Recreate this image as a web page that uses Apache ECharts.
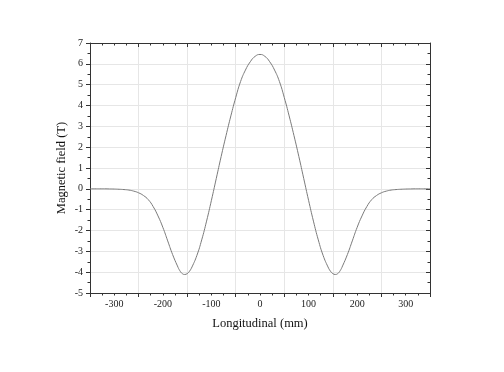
<!DOCTYPE html>
<html>
<head>
<meta charset="utf-8">
<script src="https://cdn.jsdelivr.net/npm/echarts@6/dist/echarts.min.js"></script>
<style>html,body{margin:0;padding:0;background:#fff}#c{width:504px;height:372px}</style>
</head>
<body>
<div id="c"></div>
<script>
// Longitudinal position (mm), positive half; curve is symmetric about 0
const positions = [0,10,20,30,40,50,60,70,80,90,100,110,120,130,140,145,150,155,160,165,170,180,190,200,210,220,230,240,250,260,270,280,290,300,310,320,330,340,350];
// Magnetic field (T) at those positions
const field = [6.45,6.36,6.1,5.7,5.15,4.38,3.5,2.55,1.55,0.5,-0.55,-1.55,-2.45,-3.2,-3.75,-3.95,-4.07,-4.11,-4.07,-3.93,-3.7,-3.15,-2.5,-1.85,-1.3,-0.85,-0.52,-0.32,-0.19,-0.11,-0.06,-0.035,-0.02,-0.01,-0.005,0,0,0,0];
const xTicks = [-300,-200,-100,0,100,200,300];
const yTicks = [-5,-4,-3,-2,-1,0,1,2,3,4,5,6,7];

const pts = [];
for (let i = positions.length - 1; i > 0; i--) pts.push([-positions[i], field[i]]);
for (let i = 0; i < positions.length; i++) pts.push([positions[i], field[i]]);

const font = 'Liberation Serif';
const axisCol = '#333';
const chart = echarts.init(document.getElementById('c'));
chart.setOption({
  animation: false,
  grid: {left: 90, right: 74, top: 43, bottom: 79},
  xAxis: [{
    type: 'value', min: -350, max: 350, interval: 100,
    name: 'Longitudinal (mm)', nameLocation: 'middle', nameGap: 24,
    nameTextStyle: {fontFamily: font, fontSize: 12.5, color: '#111'},
    axisLine: {show: true, onZero: false, lineStyle: {color: axisCol, width: 1}},
    axisTick: {show: true, length: 4, lineStyle: {color: axisCol}},
    minorTick: {show: true, splitNumber: 4, length: 2.5, lineStyle: {color: axisCol}},
    axisLabel: {fontFamily: font, fontSize: 10, color: '#222', margin: 6,
      customValues: xTicks},
    splitLine: {show: true, lineStyle: {color: '#e6e6e6', width: 1}}
  }, {
    type: 'value', min: -350, max: 350, interval: 100, position: 'top',
    axisLine: {show: true, onZero: false, lineStyle: {color: axisCol, width: 1}},
    axisTick: {show: true, inside: true, length: 4, lineStyle: {color: axisCol}},
    minorTick: {show: true, splitNumber: 4, length: 2.5, lineStyle: {color: axisCol}},
    axisLabel: {show: false}, splitLine: {show: false}
  }],
  yAxis: [{
    type: 'value', min: -5, max: 7, interval: 1,
    name: 'Magnetic field (T)', nameLocation: 'middle', nameGap: 22, nameMoveOverlap: false,
    nameTextStyle: {fontFamily: font, fontSize: 12.5, color: '#111'},
    axisLine: {show: true, onZero: false, lineStyle: {color: axisCol, width: 1}},
    axisTick: {show: true, length: 4, lineStyle: {color: axisCol}},
    minorTick: {show: true, splitNumber: 2, length: 2.5, lineStyle: {color: axisCol}},
    axisLabel: {fontFamily: font, fontSize: 10, color: '#222', margin: 7,
      customValues: yTicks},
    splitLine: {show: true, lineStyle: {color: '#e6e6e6', width: 1}}
  }, {
    type: 'value', min: -5, max: 7, interval: 1, position: 'right',
    axisLine: {show: true, onZero: false, lineStyle: {color: axisCol, width: 1}},
    axisTick: {show: true, inside: true, length: 4, lineStyle: {color: axisCol}},
    minorTick: {show: true, splitNumber: 2, length: 2.5, lineStyle: {color: axisCol}},
    axisLabel: {show: false}, splitLine: {show: false}
  }],
  series: [{
    type: 'line', data: pts, smooth: true, symbol: 'none',
    lineStyle: {color: '#7a7a7a', width: 1}
  }]
});
</script>
</body>
</html>
